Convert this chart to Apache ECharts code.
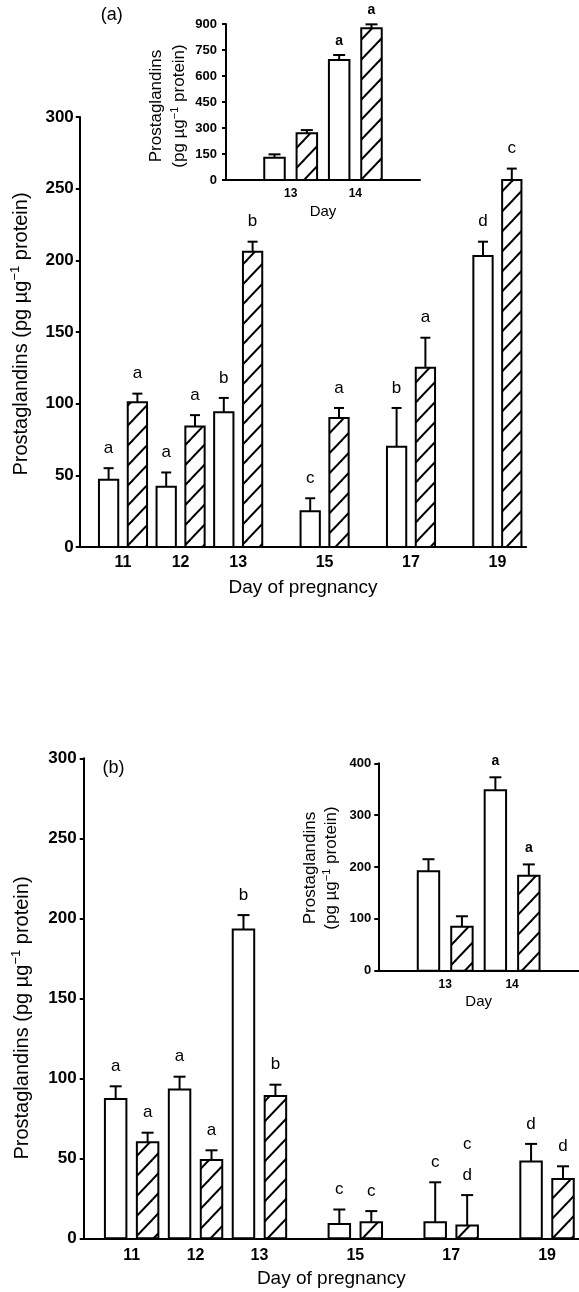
<!DOCTYPE html>
<html><head><meta charset="utf-8">
<script src="https://cdn.jsdelivr.net/npm/echarts@6/dist/echarts.min.js"></script>
<style>html,body{margin:0;padding:0;background:#fff}#c{width:579px;height:1292px}</style>
</head><body><div id="c"></div>
<script>
// ---------- data ----------
const mainDays = [11, 12, 13, 15, 17, 19];
const insetDays = [13, 14];

// panel (a) main
const aOpen     = [47, 42, 94, 25, 70, 203];
const aOpenErr  = [8, 10, 10, 9, 27, 10];
const aOpenSig  = ['a', 'a', 'b', 'c', 'b', 'd'];
const aHatch    = [101, 84, 206, 90, 125, 256];
const aHatchErr = [6, 8, 7, 7, 21, 8];
const aHatchSig = ['a', 'a', 'b', 'a', 'a', 'c'];
// panel (a) inset
const aInsOpen     = [129, 692];
const aInsOpenErr  = [19, 29];
const aInsOpenSig  = ['', 'a'];
const aInsHatch    = [269, 875];
const aInsHatchErr = [19, 23];
const aInsHatchSig = ['', 'a'];

// panel (b) main
const bOpen     = [87, 93, 193, 9, 10, 48];
const bOpenErr  = [8, 8, 9, 9, 25, 11];
const bOpenSig  = ['a', 'a', 'b', 'c', 'c', 'd'];
const bHatch    = [60, 49, 89, 10, 8, 37];
const bHatchErr = [6, 6, 7, 7, 19, 8];
const bHatchSig = ['a', 'a', 'b', 'c', 'c\nd', 'd'];
// panel (b) inset
const bInsOpen     = [192, 348];
const bInsOpenErr  = [23, 25];
const bInsOpenSig  = ['', 'a'];
const bInsHatch    = [85, 183];
const bInsHatchErr = [20, 22];
const bInsHatchSig = ['', 'a'];

const yTitle = 'Prostaglandins (pg µg';
// ---------- rendering ----------
const FONT = "'Liberation Sans', Arial, Helvetica, sans-serif";
// day -> axis position (days 11-13 one unit apart, later days compressed)
function mainPos(d) { return d <= 13 ? d - 11 : 2 + (d - 13) * 0.75; }
function insetPos(d) { return d - 13; }

function makePattern() {
  const W = 19, H = 20;
  const c = document.createElement('canvas');
  c.width = W; c.height = H;
  const g = c.getContext('2d');
  g.fillStyle = '#fff'; g.fillRect(0, 0, W, H);
  g.strokeStyle = '#000'; g.lineWidth = 2;
  for (let k = 0; k <= 2; k++) {
    g.beginPath(); g.moveTo(-W, k * H + H); g.lineTo(2 * W, k * H - 2 * H); g.stroke();
  }
  return c;
}
const PAT = makePattern();

function barSeries(grid, days, posFn, vals, errs, sigs, side, hatched, cfg) {
  return {
    type: 'custom', xAxisIndex: grid, yAxisIndex: grid,
    data: days.map((d, i) => [posFn(d), vals[i], errs[i]]),
    renderItem: function (params, api) {
      const x = api.value(0) + side * 0.25;
      const v = api.value(1), e = api.value(2);
      const base = api.coord([x, 0]), top = api.coord([x, v]), et = api.coord([x, v + e]);
      const w = api.size([cfg.barW, 0])[0];
      const cx = base[0];
      const ch = [
        { type: 'line', shape: { x1: cx, y1: top[1], x2: cx, y2: et[1] }, style: { stroke: '#000', lineWidth: cfg.lw } },
        { type: 'line', shape: { x1: cx - cfg.cap / 2, y1: et[1], x2: cx + cfg.cap / 2, y2: et[1] }, style: { stroke: '#000', lineWidth: cfg.lw } },
        { type: 'rect', shape: { x: cx - w / 2, y: top[1], width: w, height: base[1] - top[1] },
          style: { fill: hatched ? { type: 'pattern', image: PAT, repeat: 'repeat' } : '#fff', stroke: '#000', lineWidth: cfg.lw } }
      ];
      const s = sigs[params.dataIndex];
      if (s) ch.push({ type: 'text', x: cx, y: et[1] - cfg.sigGap + cfg.sigLH / 2,
        style: { text: s, fontFamily: FONT, fontSize: cfg.sigFont, fontWeight: cfg.sigW, fill: '#000',
          align: 'center', verticalAlign: 'bottom', lineHeight: cfg.sigLH } });
      return { type: 'group', children: ch };
    }
  };
}

function xAx(grid, min, max, labels, posFn, fs, margin, name, nameFs, nameGap) {
  return {
    gridIndex: grid, type: 'value', min: min, max: max,
    axisLine: { show: true, onZero: false, lineStyle: { color: '#000', width: 2 } },
    axisTick: { show: false }, splitLine: { show: false },
    axisLabel: {
      customValues: labels.map(posFn),
      formatter: function (v) {
        const i = labels.findIndex(d => Math.abs(posFn(d) - v) < 1e-6);
        return i >= 0 ? String(labels[i]) : '';
      },
      color: '#000', fontFamily: FONT, fontSize: fs, fontWeight: 'bold', margin: margin
    },
    name: name, nameLocation: 'middle', nameGap: nameGap,
    nameTextStyle: { color: '#000', fontFamily: FONT, fontSize: nameFs }
  };
}
function yAx(grid, max, interval, fs, margin) {
  return {
    gridIndex: grid, type: 'value', min: 0, max: max, interval: interval,
    axisLine: { show: true, onZero: false, lineStyle: { color: '#000', width: 2 } },
    axisTick: { show: true, length: 4, lineStyle: { color: '#000', width: 2 } },
    splitLine: { show: false },
    axisLabel: { color: '#000', fontFamily: FONT, fontSize: fs, fontWeight: 'bold', margin: margin }
  };
}
function yName(x, y, fs, sup, lh, twoLines) {
  const t = twoLines ? '{a|Prostaglandins}\n{a|(pg µg}{s|−1}{a| protein)}'
                     : '{a|' + yTitle + '}{s|−1}{a| protein)}';
  return {
    type: 'text', x: x, y: y, rotation: Math.PI / 2, z: 100,
    style: {
      text: t, align: 'center', verticalAlign: 'middle', fill: '#000',
      fontFamily: FONT, fontSize: fs,
      rich: {
        a: { fontFamily: FONT, fontSize: fs, lineHeight: lh, fill: '#000' },
        s: { fontFamily: FONT, fontSize: sup, lineHeight: lh, fill: '#000', padding: [0, 0, fs * 0.55, 0] }
      }
    }
  };
}

const mainA = { barW: 0.335, lw: 2, cap: 10, sigFont: 17, sigW: 'normal', sigGap: 20, sigLH: 31 };
const mainB = { barW: 0.336, lw: 2, cap: 12, sigFont: 17, sigW: 'normal', sigGap: 20, sigLH: 31 };
const insA  = { barW: 0.317, lw: 2, cap: 12, sigFont: 14, sigW: 'bold', sigGap: 14, sigLH: 16 };
const insB  = { barW: 0.32,  lw: 2, cap: 12, sigFont: 14, sigW: 'bold', sigGap: 16, sigLH: 16 };

const chart = echarts.init(document.getElementById('c'), null, { renderer: 'canvas' });
chart.setOption({
  animation: false,
  backgroundColor: '#fff',
  grid: [
    { left: 79.8, top: 117, width: 446.4, height: 430 },
    { left: 226, top: 24, width: 194, height: 156 },
    { left: 83.7, top: 758.3, width: 496, height: 480 },
    { left: 378.3, top: 763.3, width: 206.4, height: 207.4 }
  ],
  xAxis: [
    xAx(0, -0.75, 7, mainDays, mainPos, 16, 8, 'Day of pregnancy', 19, 31),
    xAx(1, -1, 2, insetDays, insetPos, 12, 8, 'Day', 15, 24),
    xAx(2, -0.75, 7, mainDays, mainPos, 16, 9, 'Day of pregnancy', 19, 31),
    xAx(3, -1, 2, insetDays, insetPos, 12, 8, 'Day', 15, 24)
  ],
  yAxis: [
    yAx(0, 300, 50, 17, 6),
    yAx(1, 900, 150, 13, 9),
    yAx(2, 300, 50, 17, 7),
    yAx(3, 400, 100, 13, 7)
  ],
  graphic: [
    { type: 'text', x: 111.7, y: 15.5, style: { text: '(a)', fontFamily: FONT, fontSize: 18, fill: '#000', align: 'center', verticalAlign: 'middle' } },
    { type: 'text', x: 113.5, y: 768, style: { text: '(b)', fontFamily: FONT, fontSize: 18, fill: '#000', align: 'center', verticalAlign: 'middle' } },
    yName(21, 334, 20, 13, 23, false),
    yName(22, 1018, 20, 13, 23, false),
    yName(168, 106, 17, 11, 23, true),
    yName(321, 868, 17, 11, 21, true)
  ],
  series: [
    barSeries(0, mainDays, mainPos, aOpen, aOpenErr, aOpenSig, -1, false, mainA),
    barSeries(0, mainDays, mainPos, aHatch, aHatchErr, aHatchSig, 1, true, mainA),
    barSeries(1, insetDays, insetPos, aInsOpen, aInsOpenErr, aInsOpenSig, -1, false, insA),
    barSeries(1, insetDays, insetPos, aInsHatch, aInsHatchErr, aInsHatchSig, 1, true, insA),
    barSeries(2, mainDays, mainPos, bOpen, bOpenErr, bOpenSig, -1, false, mainB),
    barSeries(2, mainDays, mainPos, bHatch, bHatchErr, bHatchSig, 1, true, mainB),
    barSeries(3, insetDays, insetPos, bInsOpen, bInsOpenErr, bInsOpenSig, -1, false, insB),
    barSeries(3, insetDays, insetPos, bInsHatch, bInsHatchErr, bInsHatchSig, 1, true, insB)
  ]
});
</script></body></html>
